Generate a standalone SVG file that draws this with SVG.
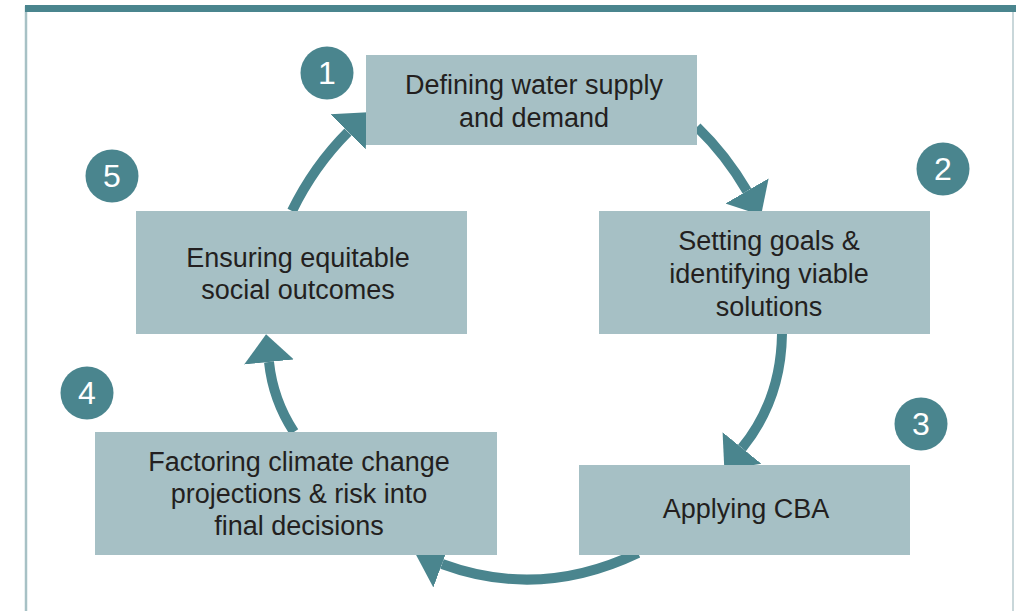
<svg xmlns="http://www.w3.org/2000/svg" width="1016" height="611" viewBox="0 0 1016 611">
  <style>
    .box { fill: #a6c0c5; }
    .label { font-family: "Liberation Sans", Arial, sans-serif; font-size: 27px; fill: #231f20; text-anchor: middle; }
    .badge { fill: #4a858e; }
    .num { font-family: "Liberation Sans", Arial, sans-serif; font-size: 32px; fill: #ffffff; text-anchor: middle; }
    .flow { fill: none; stroke: #4a858e; stroke-width: 10; }
  </style>
  <defs>
    <marker id="head" markerUnits="userSpaceOnUse" viewBox="0 -26 29 52" refX="0" refY="0" markerWidth="29" markerHeight="52" orient="auto">
      <path d="M0,-25 L28,0 L0,25 Z" fill="#4a858e"/>
    </marker>
  </defs>

  <rect width="1016" height="611" fill="#ffffff"/>

  <!-- frame -->
  <g id="frame">
    <line x1="26" y1="6" x2="26" y2="611" stroke="#a7c1c5" stroke-width="2.5"/>
    <line x1="1013" y1="6" x2="1013" y2="611" stroke="#c9d7da" stroke-width="2"/>
    <rect x="25" y="5" width="991" height="7" fill="#4a858e"/>
  </g>

  <!-- cycle connectors -->
  <g id="connectors">
    <path class="flow" d="M697,127 Q726,155 747,191" marker-end="url(#head)"/>
    <path class="flow" d="M782,334 Q781,400 742,448" marker-end="url(#head)"/>
    <path class="flow" d="M638,553 Q540,600 442,564" marker-end="url(#head)"/>
    <path class="flow" d="M294,432 Q273,400 269,362" marker-end="url(#head)"/>
    <path class="flow" d="M292,211 Q314,166 348,132" marker-end="url(#head)"/>
  </g>

  <g id="step1">
    <rect class="box" x="366" y="55" width="331" height="90"/>
    <text class="label" x="534" y="94">Defining water supply</text>
    <text class="label" x="534" y="127">and demand</text>
    <circle class="badge" cx="327" cy="73" r="26.5"/>
    <text class="num" x="327" y="84">1</text>
  </g>

  <g id="step2">
    <rect class="box" x="599" y="211" width="331" height="123"/>
    <text class="label" x="769" y="250">Setting goals &amp;</text>
    <text class="label" x="769" y="283">identifying viable</text>
    <text class="label" x="769" y="316">solutions</text>
    <circle class="badge" cx="943" cy="169" r="26.5"/>
    <text class="num" x="943" y="180">2</text>
  </g>

  <g id="step3">
    <rect class="box" x="579" y="465" width="331" height="90"/>
    <text class="label" x="746" y="518">Applying CBA</text>
    <circle class="badge" cx="921" cy="424" r="26.5"/>
    <text class="num" x="921" y="435">3</text>
  </g>

  <g id="step4">
    <rect class="box" x="95" y="432" width="402" height="123"/>
    <text class="label" x="299" y="471">Factoring climate change</text>
    <text class="label" x="299" y="503">projections &amp; risk into</text>
    <text class="label" x="299" y="535">final decisions</text>
    <circle class="badge" cx="87" cy="393" r="26.5"/>
    <text class="num" x="87" y="404">4</text>
  </g>

  <g id="step5">
    <rect class="box" x="136" y="211" width="331" height="123"/>
    <text class="label" x="298" y="267">Ensuring equitable</text>
    <text class="label" x="298" y="299">social outcomes</text>
    <circle class="badge" cx="112" cy="176" r="26.5"/>
    <text class="num" x="112" y="187">5</text>
  </g>
</svg>
